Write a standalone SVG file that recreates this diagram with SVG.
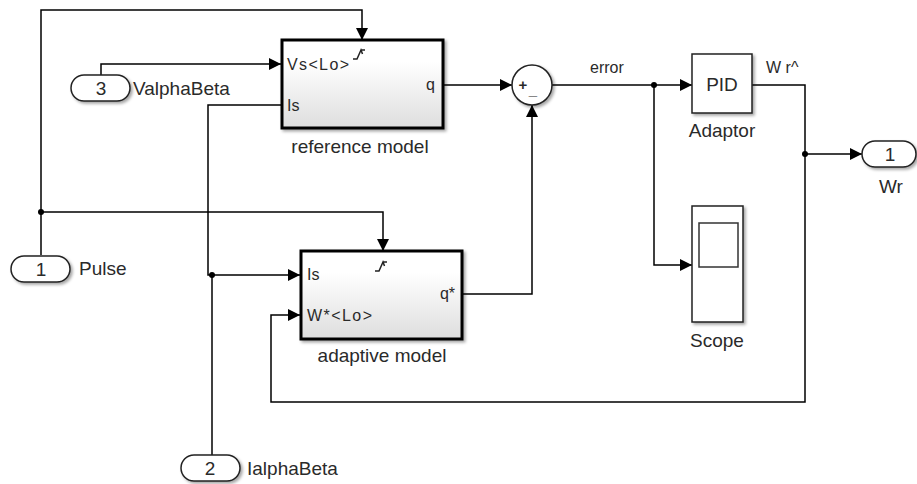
<svg xmlns="http://www.w3.org/2000/svg" width="917" height="484" viewBox="0 0 917 484">
  <defs>
    <marker id="arrow" viewBox="0 0 12 12" refX="12" refY="6" markerWidth="12" markerHeight="12" markerUnits="userSpaceOnUse" orient="auto">
      <path d="M0,0 L12,6 L0,12 Z" fill="#000"/>
    </marker>
    <linearGradient id="subsysFill" x1="0" y1="0" x2="0" y2="1">
      <stop offset="0.25" stop-color="#ffffff"/>
      <stop offset="1" stop-color="#dedede"/>
    </linearGradient>
    <filter id="shadow" x="-10%" y="-10%" width="130%" height="140%">
      <feDropShadow dx="2" dy="2" stdDeviation="1.5" flood-color="#000" flood-opacity="0.35"/>
    </filter>
  </defs>
  <style>
    .wire { fill: none; stroke: #000; stroke-width: 1.5; }
    .arr { marker-end: url(#arrow); }
    .dot { fill: #000; }
    .subsys { fill: url(#subsysFill); stroke: #000; stroke-width: 3; filter: url(#shadow); }
    .blk { fill: #fff; stroke: #222; stroke-width: 1.5; filter: url(#shadow); }
    .port { fill: #fff; stroke: #222; stroke-width: 1.5; filter: url(#shadow); }
    .name { font-family: "Liberation Sans", Arial, sans-serif; font-size: 19px; fill: #2a2a2a; }
    .plabel { font-family: "Liberation Sans", Arial, sans-serif; font-size: 16px; fill: #2a2a2a; }
    .sig { font-family: "Liberation Sans", Arial, sans-serif; font-size: 16px; fill: #2a2a2a; }
    .mid { text-anchor: middle; }
    .end { text-anchor: end; }
    .trig { fill: none; stroke: #222; stroke-width: 1.5; }
  </style>

  <rect width="917" height="484" fill="#fff"/>

  <!-- signal lines -->
  <g id="connectors">
    <!-- Pulse to both trigger ports -->
    <polyline class="wire arr" points="41,255 41,10 362,10 362,40"/>
    <polyline class="wire arr" points="41,212 383,212 383,251"/>
    <circle class="dot" cx="41" cy="212" r="3"/>
    <!-- ValphaBeta -->
    <polyline class="wire arr" points="101,75 101,64 281,64"/>
    <!-- IalphaBeta to both Is ports -->
    <polyline class="wire" points="212,455 212,275"/>
    <polyline class="wire arr" points="281,105 208,105 208,275 300,275"/>
    <circle class="dot" cx="212" cy="275" r="3"/>
    <!-- model outputs to sum -->
    <polyline class="wire arr" points="443,85 512,85"/>
    <polyline class="wire arr" points="462,294 532,294 532,105"/>
    <!-- error -->
    <polyline class="wire arr" points="552,85 692,85"/>
    <polyline class="wire arr" points="654,85 654,265 692,265"/>
    <circle class="dot" cx="654" cy="85" r="3"/>
    <!-- adaptor output -->
    <polyline class="wire" points="752,85 805,85 805,154"/>
    <polyline class="wire arr" points="805,154 862,154"/>
    <polyline class="wire arr" points="805,154 805,402 271,402 271,315 300,315"/>
    <circle class="dot" cx="805" cy="154" r="3"/>
    <!-- signal names -->
    <text class="sig" x="590" y="73">error</text>
    <text class="sig" x="766" y="73">W r^</text>
  </g>

  <g id="inport-valphabeta">
    <rect class="port" x="71" y="75" width="59" height="26" rx="13"/>
    <text class="name mid" x="101" y="95">3</text>
    <text class="name" x="133" y="95">ValphaBeta</text>
  </g>

  <g id="inport-pulse">
    <rect class="port" x="11" y="256" width="59" height="26" rx="13"/>
    <text class="name mid" x="41" y="276">1</text>
    <text class="name" x="79" y="275">Pulse</text>
  </g>

  <g id="inport-ialphabeta">
    <rect class="port" x="181" y="455" width="59" height="26" rx="13"/>
    <text class="name mid" x="210" y="475">2</text>
    <text class="name" x="247" y="475">IalphaBeta</text>
  </g>

  <g id="reference-model">
    <rect class="subsys" x="282" y="40" width="161" height="88"/>
    <path class="trig" d="M353,59 h4 l4,-9 h4 M359,54.5 l2,-4.5 l1.5,4"/>
    <text class="plabel" x="287" y="70" textLength="62" lengthAdjust="spacing">Vs&lt;Lo&gt;</text>
    <text class="plabel" x="287" y="111">Is</text>
    <text class="plabel end" x="435" y="90">q</text>
    <text class="name mid" x="360" y="153">reference model</text>
  </g>

  <g id="adaptive-model">
    <rect class="subsys" x="301" y="251" width="161" height="88"/>
    <path class="trig" d="M375,271 h4 l4,-9 h4 M381,266.5 l2,-4.5 l1.5,4"/>
    <text class="plabel" x="307" y="280">Is</text>
    <text class="plabel" x="307" y="321" textLength="65" lengthAdjust="spacing">W*&lt;Lo&gt;</text>
    <text class="plabel end" x="455" y="299">q*</text>
    <text class="name mid" x="382" y="362">adaptive model</text>
  </g>

  <g id="sum">
    <circle class="blk" cx="532" cy="85" r="20"/>
    <text class="plabel mid" x="523" y="90" style="font-size:15px;font-weight:bold">+</text>
    <text class="plabel mid" x="533" y="95" style="font-size:15px;font-weight:bold">_</text>
  </g>

  <g id="adaptor">
    <rect class="blk" x="692" y="54" width="60" height="59"/>
    <text class="name mid" x="722" y="91">PID</text>
    <text class="name mid" x="722" y="137">Adaptor</text>
  </g>

  <g id="scope">
    <rect class="blk" x="692" y="206" width="51" height="116"/>
    <rect x="699" y="223" width="39" height="44" fill="#fff" stroke="#333" stroke-width="1.5"/>
    <text class="name mid" x="717" y="347">Scope</text>
  </g>

  <g id="outport-wr">
    <rect class="port" x="862" y="141" width="54" height="26" rx="13"/>
    <text class="name mid" x="890" y="161">1</text>
    <text class="name mid" x="891" y="193">Wr</text>
  </g>
</svg>
